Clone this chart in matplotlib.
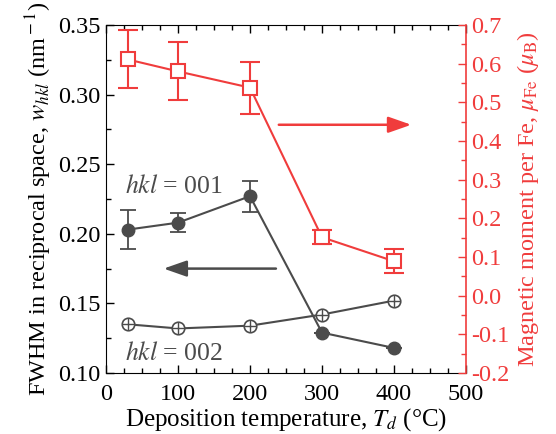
import matplotlib
matplotlib.use('Agg')
import matplotlib.pyplot as plt
from matplotlib.ticker import MultipleLocator, FormatStrFormatter

plt.rcParams['font.family'] = ['Liberation Serif', 'DejaVu Serif']
plt.rcParams['mathtext.fontset'] = 'stix'
plt.rcParams['axes.unicode_minus'] = False

# data
temps = [30, 100, 200, 300, 400]
w001 = [0.203, 0.208, 0.227, 0.129, 0.118]
w001_err = [0.014, 0.007, 0.011, 0, 0]
w002 = [0.135, 0.132, 0.134, 0.142, 0.152]
mu_fe = [0.611, 0.580, 0.538, 0.151, 0.089]
mu_fe_err = [0.075, 0.075, 0.067, 0.018, 0.031]

red = '#F03C3C'
gray = '#4B4B4B'
fs = 17.5

fig = plt.figure(figsize=(5.56, 4.34), dpi=100)
ax = fig.add_axes([106 / 556, 61 / 434, 360 / 556, 348 / 434])
ax2 = ax.twinx()

# left axis: FWHM
ax.errorbar(temps, w001, yerr=w001_err, color=gray, lw=1.5, marker='o', ms=9,
            mfc=gray, mec=gray, capsize=5.5, elinewidth=1.3, capthick=1.3, zorder=3)
ax.plot(temps, w002, color=gray, lw=1.5, marker='o', ms=9, mfc='white', mec=gray, mew=1.2, zorder=3)
ax.plot(temps, w002, ls='none', marker='+', ms=9, mec=gray, mew=1.0, zorder=4)

ax.set_xlim(0, 500)
ax.set_ylim(0.10, 0.35)
ax.xaxis.set_major_locator(MultipleLocator(100))
ax.xaxis.set_minor_locator(MultipleLocator(25))
ax.yaxis.set_major_locator(MultipleLocator(0.05))
ax.yaxis.set_minor_locator(MultipleLocator(0.025))
ax.yaxis.set_major_formatter(FormatStrFormatter('%.2f'))
ax.tick_params(which='both', direction='in', top=True, right=False, labelsize=fs, pad=4)
ax.tick_params(axis='x', which='both', pad=8)
ax.tick_params(which='major', length=6, width=1)
ax.tick_params(which='minor', length=3.5, width=1)
ax.spines['right'].set_visible(False)

ax.set_xlabel(r'Deposition temperature, $T_{d}$ (°C)', fontsize=fs + 0.5, labelpad=1)
ax.set_ylabel(r'FWHM in reciprocal space, $w_{hkl}$ (nm$^{\rm -1}$)', fontsize=fs, labelpad=3)

ax.text(26, 0.234, r'$hkl$ = 001', color=gray, fontsize=fs + 1, va='center', ha='left')
ax.text(26, 0.114, r'$hkl$ = 002', color=gray, fontsize=fs + 1, va='center', ha='left')
ax.annotate('', xy=(80, 0.175), xytext=(236, 0.175),
            arrowprops=dict(arrowstyle='-|>,head_length=1.0,head_width=0.35', color=gray, lw=1.8,
                            mutation_scale=14, shrinkA=0, shrinkB=0))

# right axis: magnetic moment
ax2.errorbar(temps, mu_fe, yerr=mu_fe_err, color=red, lw=1.5, marker='s', ms=10,
             mfc='white', mec=red, mew=1.5, capsize=7, elinewidth=1.5, capthick=1.5, zorder=3)
ax2.set_ylim(-0.2, 0.7)
ax2.yaxis.set_major_locator(MultipleLocator(0.1))
ax2.yaxis.set_minor_locator(MultipleLocator(0.05))
ax2.yaxis.set_major_formatter(FormatStrFormatter('%.1f'))
ax2.tick_params(which='both', direction='in', colors=red, labelsize=fs, pad=4)
ax2.tick_params(which='major', length=6, width=1)
ax2.tick_params(which='minor', length=3.5, width=1)
ax2.spines['right'].set_color(red)
ax2.spines['right'].set_linewidth(1.2)
for s in ['left', 'top', 'bottom']:
    ax2.spines[s].set_visible(False)
ax2.set_ylabel(r'Magnetic moment per Fe, $\mu_{\rm Fe}$ ($\mu_{\rm B}$)', color=red, fontsize=fs, labelpad=4)
ax2.annotate('', xy=(424, 0.442), xytext=(240, 0.442),
             arrowprops=dict(arrowstyle='-|>,head_length=1.0,head_width=0.35', color=red, lw=1.8,
                             mutation_scale=14, shrinkA=0, shrinkB=0))

fig.savefig('out.png', dpi=100)
